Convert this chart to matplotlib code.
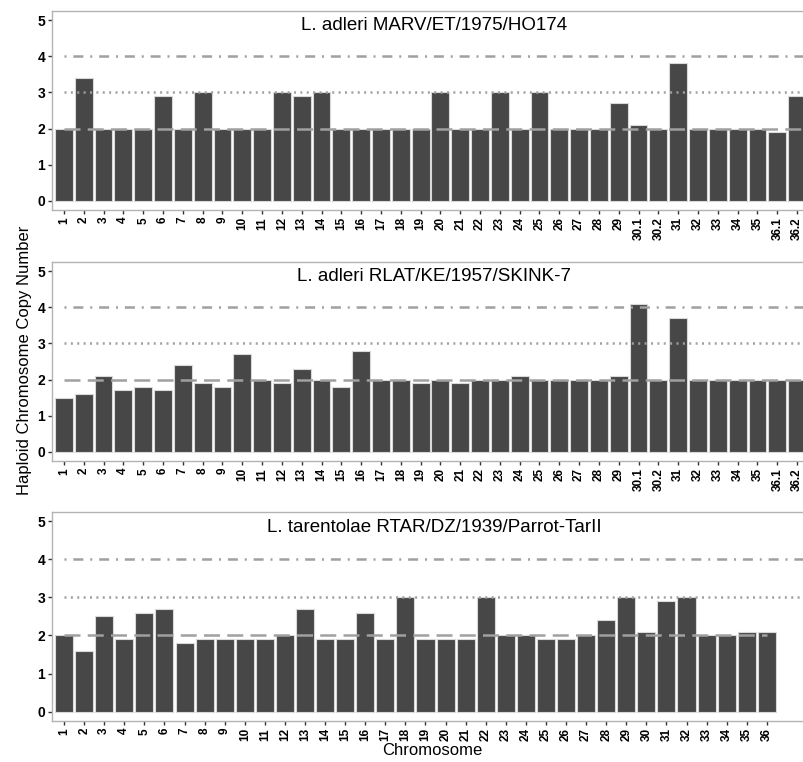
import matplotlib.pyplot as plt

plt.rcParams['font.family'] = ['Liberation Sans', 'DejaVu Sans']

chrom_split = [str(i) for i in range(1, 30)] + ['30.1', '30.2'] + \
    [str(i) for i in range(31, 36)] + ['36.1', '36.2']
chrom_full = [str(i) for i in range(1, 37)]

marv = [2, 3.4, 2, 2, 2, 2.9, 2, 3, 2, 2, 2, 3, 2.9, 3, 2, 2, 2, 2, 2, 3,
        2, 2, 3, 2, 3, 2, 2, 2, 2.7, 2.1, 2, 3.8, 2, 2, 2, 2, 1.9, 2.9]
rlat = [1.5, 1.6, 2.1, 1.7, 1.8, 1.7, 2.4, 1.9, 1.8, 2.7, 2, 1.9, 2.3, 2,
        1.8, 2.8, 2, 2, 1.9, 2, 1.9, 2, 2, 2.1, 2, 2, 2, 2, 2.1, 4.1, 2,
        3.7, 2, 2, 2, 2, 2, 2]
rtar = [2, 1.6, 2.5, 1.9, 2.6, 2.7, 1.8, 1.9, 1.9, 1.9, 1.9, 2, 2.7, 1.9,
        1.9, 2.6, 1.9, 3, 1.9, 1.9, 1.9, 3, 2, 2, 1.9, 1.9, 2, 2.4, 3, 2.1,
        2.9, 3, 2, 2, 2.1, 2.1]

panels = [
    ('L. adleri MARV/ET/1975/HO174', chrom_split, marv,
     [0.0647, 0.7244, 0.9415, 0.2612], 38.6, None),
    ('L. adleri RLAT/KE/1957/SKINK-7', chrom_split, rlat,
     [0.0647, 0.395, 0.9415, 0.2612], 38.6, None),
    ('L. tarentolae RTAR/DZ/1939/Parrot-TarII', chrom_full, rtar,
     [0.0647, 0.0538, 0.9415, 0.2743], 38.1, 36),
]

line_col = '#a0a0a0'
fig = plt.figure(figsize=(8.04, 7.62), dpi=100)

for title, labels, vals, pos, xmax, dash_end in panels:
    ax = fig.add_axes(pos)
    x = list(range(1, len(labels) + 1))
    ax.bar(x, vals, width=0.9, color='#474747', edgecolor='#d9d9d9',
           linewidth=0.8, zorder=2)
    # copy-number guides: 2n dashed, 3n dotted, 4n dot-dash
    end2 = dash_end if dash_end else xmax
    ax.plot([1, end2], [2, 2], color=line_col, lw=1.8,
            ls=(0, (6.4, 2.9)), zorder=3)
    ax.plot([1, xmax], [3, 3], color=line_col, lw=1.8,
            ls=(0, (0.8, 1.75)), zorder=3)
    ax.plot([1, xmax], [4, 4], color=line_col, lw=1.8,
            ls=(0, (0.8, 2.75, 4, 2.75)), zorder=3)
    ax.set_xlim(0.4, xmax)
    ax.set_ylim(-0.25, 5.25)
    ax.set_xticks(x)
    ax.set_xticklabels(labels, rotation=90, fontsize=8.5, fontweight='bold')
    ax.set_yticks(range(0, 6))
    ax.set_yticklabels([str(i) for i in range(6)], fontsize=10,
                       fontweight='bold')
    ax.tick_params(length=3, width=1, color='#333333', pad=2)
    for s in ['left', 'bottom', 'top']:
        ax.spines[s].set_color('#b3b3b3')
        ax.spines[s].set_linewidth(1)
    ax.spines['right'].set_visible(False)
    ax.text(0.505, 4.85, title, transform=ax.get_yaxis_transform(),
            ha='center', va='center', fontsize=13.5)

fig.text(0.03, 0.527, 'Haploid Chromosome Copy Number', rotation=90,
         ha='center', va='center', fontsize=12)
fig.text(0.538, 0.015, 'Chromosome', ha='center', va='center', fontsize=12)

fig.savefig('out.png', dpi=100)
